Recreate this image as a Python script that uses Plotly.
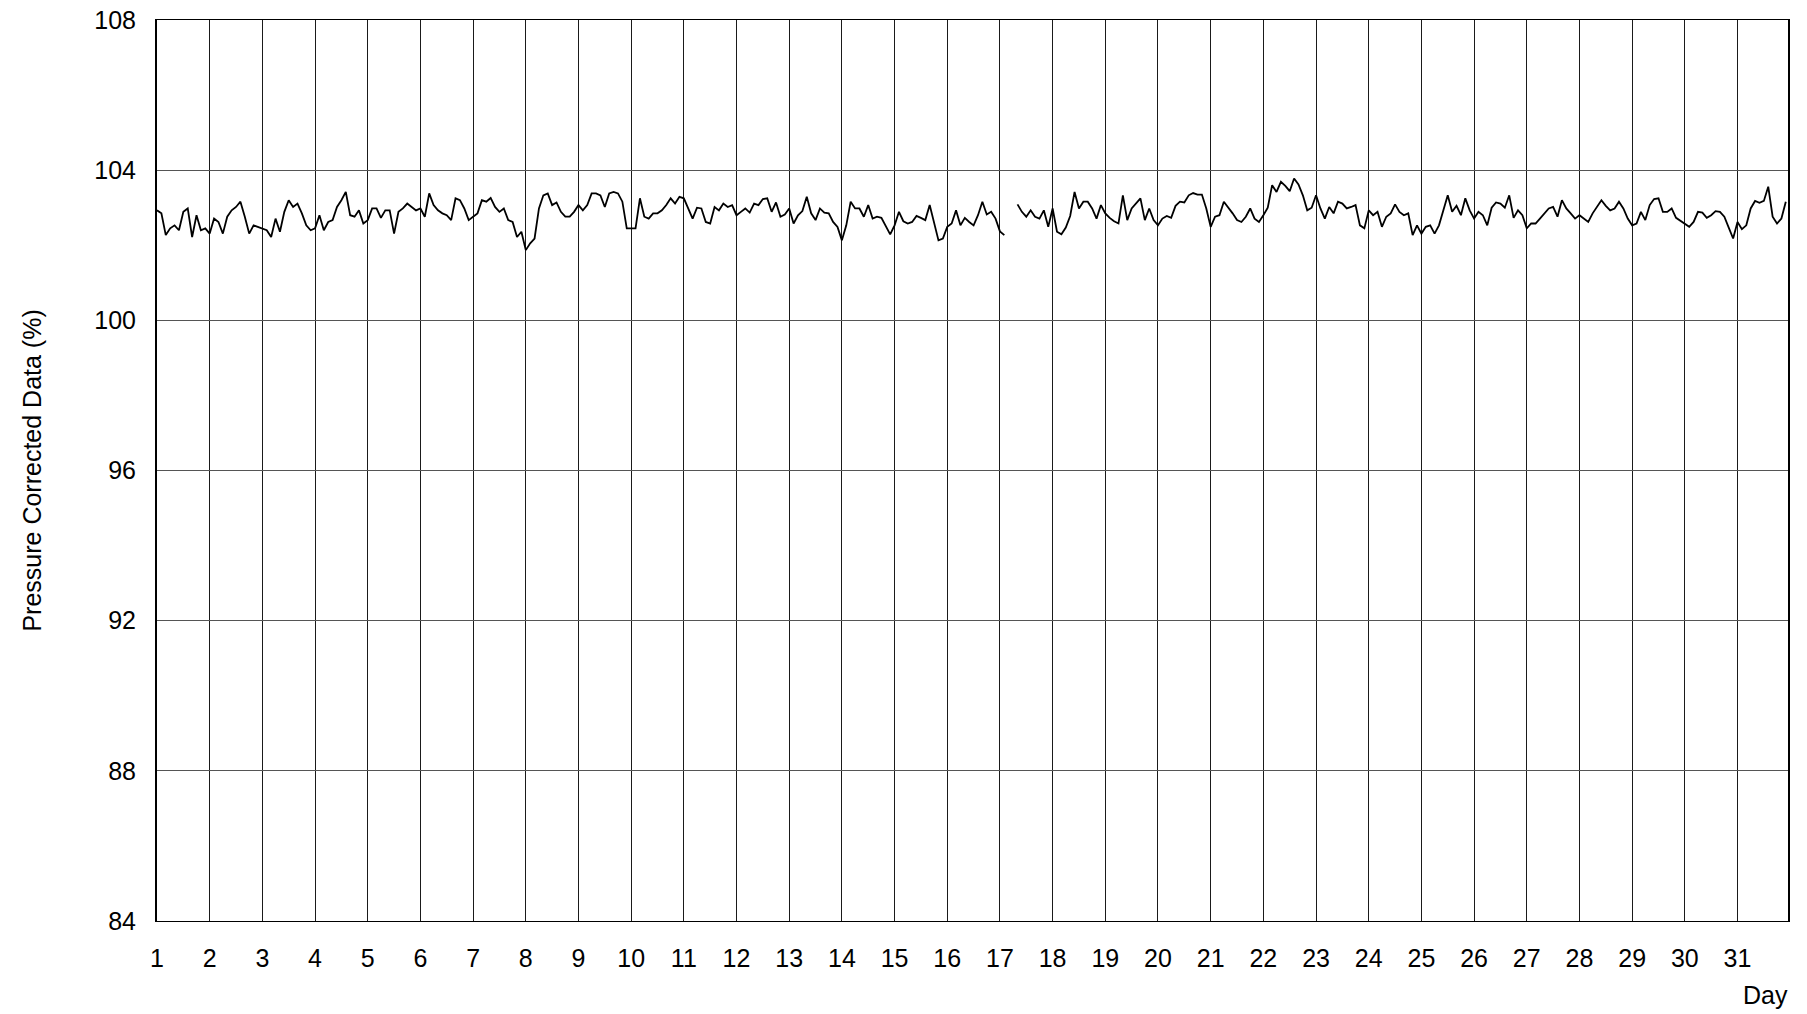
import plotly.graph_objects as go

# Pressure corrected data (%), sampled every 2 hours (12 values per day)
week1 = [
    102.93, 102.85, 102.27, 102.45, 102.53, 102.40, 102.89, 102.98, 102.22, 102.80, 102.40, 102.45,  # day 1
    102.31, 102.71, 102.62, 102.31, 102.76, 102.93, 103.02, 103.16, 102.76, 102.31, 102.53, 102.49,  # day 2
    102.45, 102.40, 102.22, 102.71, 102.36, 102.89, 103.20, 103.02, 103.11, 102.85, 102.53, 102.40,  # day 3
    102.45, 102.80, 102.40, 102.62, 102.67, 103.02, 103.20, 103.42, 102.80, 102.76, 102.93, 102.58,  # day 4
    102.67, 102.98, 102.98, 102.73, 102.93, 102.93, 102.31, 102.89, 102.98, 103.11, 103.02, 102.93,  # day 5
    102.98, 102.76, 103.38, 103.07, 102.93, 102.85, 102.80, 102.67, 103.25, 103.20, 102.98, 102.67,  # day 6
    102.76, 102.85, 103.20, 103.16, 103.26, 103.02, 102.89, 102.98, 102.67, 102.62, 102.22, 102.36,  # day 7
]
week2 = [
    101.87, 102.05, 102.18, 102.98, 103.33, 103.38, 103.07, 103.14, 102.89, 102.76, 102.76, 102.89,  # day 8
    103.07, 102.93, 103.07, 103.38, 103.38, 103.33, 103.02, 103.38, 103.42, 103.38, 103.16, 102.45,  # day 9
    102.45, 102.45, 103.25, 102.76, 102.71, 102.85, 102.85, 102.93, 103.07, 103.25, 103.11, 103.29,  # day 10
    103.25, 103.00, 102.71, 103.00, 102.98, 102.62, 102.58, 103.02, 102.93, 103.11, 103.02, 103.07,  # day 11
    102.80, 102.89, 102.98, 102.87, 103.11, 103.07, 103.23, 103.25, 102.89, 103.14, 102.76, 102.82,  # day 12
    102.98, 102.58, 102.80, 102.91, 103.29, 102.85, 102.67, 102.98, 102.87, 102.85, 102.62, 102.49,  # day 13
    102.13, 102.53, 103.16, 102.98, 102.98, 102.76, 103.07, 102.71, 102.76, 102.73, 102.49, 102.29,  # day 14
]
week3 = [
    102.53, 102.89, 102.64, 102.58, 102.62, 102.78, 102.73, 102.67, 103.07, 102.58, 102.13, 102.18,  # day 15
    102.49, 102.58, 102.93, 102.53, 102.73, 102.62, 102.53, 102.80, 103.16, 102.82, 102.89, 102.71,  # day 16
    102.37, 102.27, None, None, 103.09, 102.89, 102.76, 102.93, 102.76, 102.71, 102.93, 102.49,      # day 17
    102.98, 102.36, 102.29, 102.47, 102.78, 103.42, 102.98, 103.16, 103.16, 102.98, 102.71, 103.07,  # day 18
    102.85, 102.73, 102.64, 102.58, 103.33, 102.67, 102.98, 103.11, 103.25, 102.67, 102.98, 102.67,  # day 19
    102.53, 102.71, 102.78, 102.73, 103.05, 103.16, 103.14, 103.33, 103.39, 103.35, 103.35, 102.98,  # day 20
    102.49, 102.76, 102.80, 103.16, 103.02, 102.85, 102.67, 102.62, 102.76, 102.98, 102.71, 102.62,  # day 21
]
week4 = [
    102.80, 103.00, 103.60, 103.42, 103.69, 103.58, 103.44, 103.78, 103.62, 103.33, 102.93, 103.00,  # day 22
    103.33, 102.98, 102.71, 103.02, 102.85, 103.16, 103.11, 102.98, 103.02, 103.07, 102.53, 102.45,  # day 23
    102.93, 102.80, 102.89, 102.49, 102.76, 102.85, 103.09, 102.89, 102.80, 102.85, 102.27, 102.53,  # day 24
    102.31, 102.49, 102.53, 102.31, 102.53, 102.93, 103.33, 102.89, 103.05, 102.80, 103.25, 102.93,  # day 25
    102.71, 102.89, 102.80, 102.53, 103.00, 103.14, 103.11, 103.00, 103.33, 102.73, 102.93, 102.80,  # day 26
    102.45, 102.58, 102.58, 102.71, 102.85, 102.98, 103.02, 102.76, 103.20, 102.98, 102.85, 102.71,  # day 27
    102.80, 102.71, 102.62, 102.85, 103.02, 103.20, 103.05, 102.93, 102.98, 103.16, 102.98, 102.71,  # day 28
]
week5 = [
    102.53, 102.58, 102.89, 102.67, 103.07, 103.23, 103.25, 102.89, 102.89, 102.98, 102.73, 102.65,  # day 29
    102.58, 102.49, 102.62, 102.89, 102.87, 102.73, 102.80, 102.91, 102.89, 102.76, 102.47, 102.18,  # day 30
    102.62, 102.43, 102.53, 102.98, 103.18, 103.13, 103.18, 103.56, 102.76, 102.58, 102.71, 103.16,  # day 31
]
days = list(range(1, 32))
sample_hours = list(range(0, 24, 2))
y_ticks = [84, 88, 92, 96, 100, 104, 108]

values = week1 + week2 + week3 + week4 + week5
x_vals = [d + h / 24 for d in days for h in sample_hours]

fig = go.Figure()
fig.add_trace(go.Scatter(
    x=x_vals, y=values, mode="lines",
    line=dict(color="black", width=1.8),
    connectgaps=False, showlegend=False, hoverinfo="x+y",
))

font_family = "Liberation Sans, Arial, sans-serif"
fs = 25
fig.update_layout(
    width=1807, height=1014,
    margin=dict(l=157, r=19, t=20, b=93, autoexpand=False),
    paper_bgcolor="white", plot_bgcolor="white",
    font=dict(family=font_family, size=fs, color="black"),
    xaxis=dict(
        range=[1, 31 + 23 / 24], tickvals=days, ticktext=[str(d) for d in days],
        showgrid=True, gridcolor="#1a1a1a", gridwidth=1,
        showline=True, linecolor="black", linewidth=1, mirror=True,
        ticks="", zeroline=False, ticklabelstandoff=15, automargin=False,
        ticklabeloverflow="allow", tickfont=dict(size=fs),
    ),
    yaxis=dict(
        range=[84, 108], tickvals=y_ticks, ticktext=[str(v) for v in y_ticks],
        showgrid=True, gridcolor="#555555", gridwidth=1,
        showline=True, linecolor="black", linewidth=2, mirror=True,
        ticks="", zeroline=False, ticklabelstandoff=14, automargin=False,
        ticklabeloverflow="allow", tickfont=dict(size=fs),
    ),
    annotations=[
        dict(text="Day", xref="paper", yref="paper", x=1.001, y=-0.0816,
             xanchor="right", yanchor="middle", showarrow=False,
             font=dict(size=fs)),
        dict(text="Pressure Corrected Data (%)", xref="paper", yref="paper",
             x=-0.0772, y=0.5, xanchor="center", yanchor="middle",
             textangle=-90, showarrow=False, font=dict(size=fs)),
    ],
)

fig.write_html(
    "out.html",
    config={"displayModeBar": False},
    post_script="document.body.style.margin='0';document.body.style.overflow='hidden';",
)
